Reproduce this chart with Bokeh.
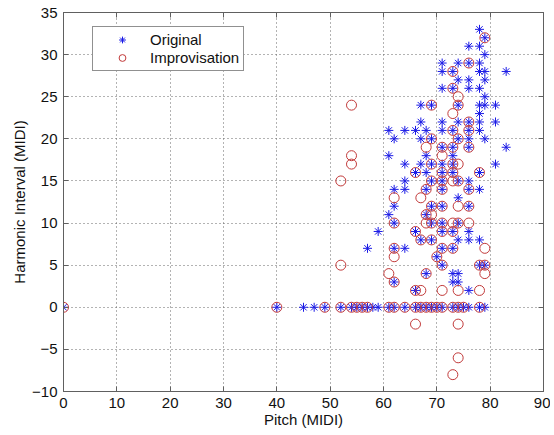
from bokeh.plotting import figure
from bokeh.models import LinearAxis, Legend, LegendItem, Range1d, FixedTicker
from bokeh.embed import file_html
from bokeh.resources import INLINE

# ---- data ----
orig_pitch = [
    78,
    79,
    76, 78,
    79,
    71, 74, 76, 78,
    71, 73, 78, 79, 83,
    74, 76, 79,
    71, 73, 76, 78,
    79,
    67, 69, 74, 78, 79, 81,
    78,
    67, 71, 74, 76, 78, 81,
    61, 64, 66, 68, 71, 73, 76, 78,
    62, 67, 69, 74, 76, 79,
    71, 73, 76, 83,
    61, 68, 73,
    64, 67, 69, 71, 73, 81,
    66, 68, 71, 73, 78,
    64, 69, 71, 74, 76,
    62, 64, 68, 71, 76, 78,
    74,
    62, 69, 71, 76,
    61, 68,
    62, 69, 71, 74,
    59, 66, 71, 73, 76,
    67, 69, 74, 76, 78,
    57, 62, 64, 71, 73,
    70,
    71, 78, 79,
    68, 73, 74,
    62, 73, 74,
    66, 76,
    0, 40, 45, 47, 49, 52, 54, 55, 56, 57, 58, 59, 61, 62, 64, 66, 67, 68, 69,
    70, 71, 73, 74, 75, 76, 78, 79,
]
orig_interval = (
    [33] * 1 + [32] * 1 + [31] * 2 + [30] * 1 + [29] * 4 + [28] * 5 + [27] * 3
    + [26] * 4 + [25] * 1 + [24] * 6 + [23] * 1 + [22] * 6 + [21] * 8
    + [20] * 6 + [19] * 4 + [18] * 3 + [17] * 6 + [16] * 5 + [15] * 5
    + [14] * 6 + [13] * 1 + [12] * 4 + [11] * 2 + [10] * 4 + [9] * 5
    + [8] * 5 + [7] * 5 + [6] * 1 + [5] * 3 + [4] * 3 + [3] * 3 + [2] * 2
    + [0] * 27
)

impr_pitch = [
    79,
    76,
    73,
    73,
    74,
    54, 69, 74,
    73,
    76,
    73, 76,
    69, 74,
    68, 71, 73, 76,
    54, 71,
    54, 69, 73, 74,
    66, 71, 73, 78,
    52, 69, 71, 73, 74,
    68, 71, 76,
    62, 67,
    69, 71, 74, 76,
    68, 69,
    62, 68, 69, 71, 73, 74, 76,
    66, 71, 73,
    67, 69,
    62, 71, 73, 79,
    62, 70,
    52, 71, 78, 79,
    61, 68, 79,
    62,
    66, 67, 71, 74, 78,
    0, 40, 49, 52, 54, 55, 56, 57, 61, 62, 64, 66, 67, 68, 69, 70, 71, 73,
    74, 75, 78,
    66, 74,
    74,
    73,
]
impr_interval = (
    [32] * 1 + [29] * 1 + [28] * 1 + [26] * 1 + [25] * 1 + [24] * 3 + [23] * 1
    + [22] * 1 + [21] * 2 + [20] * 2 + [19] * 4 + [18] * 2 + [17] * 4
    + [16] * 4 + [15] * 5 + [14] * 3 + [13] * 2 + [12] * 4 + [11] * 2
    + [10] * 7 + [9] * 3 + [8] * 2 + [7] * 4 + [6] * 2 + [5] * 4 + [4] * 3
    + [3] * 1 + [2] * 5 + [0] * 21 + [-2] * 2 + [-6] * 1 + [-8] * 1
)

x_ticks = [0, 10, 20, 30, 40, 50, 60, 70, 80, 90]
y_ticks = [-10, -5, 0, 5, 10, 15, 20, 25, 30, 35]
y_tick_labels = {-10: "\u221210", -5: "\u22125"}

FONT = "Liberation Sans"
AXIS_COLOR = "#606060"

p = figure(
    width=550, height=432,
    x_range=Range1d(0, 90), y_range=Range1d(-10, 35),
    output_backend="svg", toolbar_location=None,
    min_border_left=63, min_border_right=7, min_border_top=12, min_border_bottom=41,
)
p.background_fill_color = "white"
p.border_fill_color = "white"
p.outline_line_color = AXIS_COLOR

r_orig = p.scatter(orig_pitch, orig_interval, marker="asterisk", size=9,
                   line_color="#1a1ae6", line_width=1)
r_impr = p.scatter(impr_pitch, impr_interval, marker="circle", size=10,
                   fill_color=None, line_color="#c23a3a", line_width=1)

for ax, ticks in ((p.xaxis[0], x_ticks), (p.yaxis[0], y_ticks)):
    ax.ticker = FixedTicker(ticks=ticks)
    ax.axis_line_color = AXIS_COLOR
    ax.major_tick_line_color = AXIS_COLOR
    ax.major_tick_in = 5
    ax.major_tick_out = 0
    ax.minor_tick_line_color = None
    ax.major_label_text_font = FONT
    ax.major_label_text_font_size = "15px"
    ax.major_label_text_color = "#111111"
    ax.axis_label_text_font = FONT
    ax.axis_label_text_font_size = "15px"
    ax.axis_label_text_font_style = "normal"
    ax.axis_label_text_color = "#111111"

p.xaxis.axis_label = "Pitch (MIDI)"
p.xaxis.major_label_standoff = 6
p.xaxis.axis_label_standoff = 0
p.yaxis.axis_label = "Harmonic Interval (MIDI)"
p.yaxis.major_label_standoff = 6
p.yaxis.axis_label_standoff = 1
p.yaxis.major_label_overrides = y_tick_labels

for side, ticks in (("right", y_ticks), ("above", x_ticks)):
    ax = LinearAxis(ticker=FixedTicker(ticks=ticks))
    ax.axis_line_color = AXIS_COLOR
    ax.major_tick_line_color = AXIS_COLOR
    ax.major_tick_in = 5
    ax.major_tick_out = 0
    ax.minor_tick_line_color = None
    ax.major_label_text_font_size = "1px"
    ax.major_label_text_color = None
    ax.major_label_standoff = 0
    p.add_layout(ax, side)

p.xgrid.ticker = FixedTicker(ticks=x_ticks)
p.ygrid.ticker = FixedTicker(ticks=y_ticks)
for g in (p.xgrid[0], p.ygrid[0]):
    g.grid_line_color = "#666666"
    g.grid_line_dash = "1 3"
    g.grid_line_width = 1

legend = Legend(
    items=[LegendItem(label="Original", renderers=[r_orig]),
           LegendItem(label="Improvisation", renderers=[r_impr])],
    location=(29, 320),
    label_text_font=FONT, label_text_font_size="15px", label_text_color="#111111",
    padding=4, spacing=1, label_height=17, glyph_height=17, glyph_width=50,
    label_standoff=3, margin=0,
    border_line_color="#222222", border_line_width=1,
    background_fill_color="white", background_fill_alpha=1.0,
)
p.add_layout(legend, "center")

open("out.html", "w").write(file_html(p, INLINE))
